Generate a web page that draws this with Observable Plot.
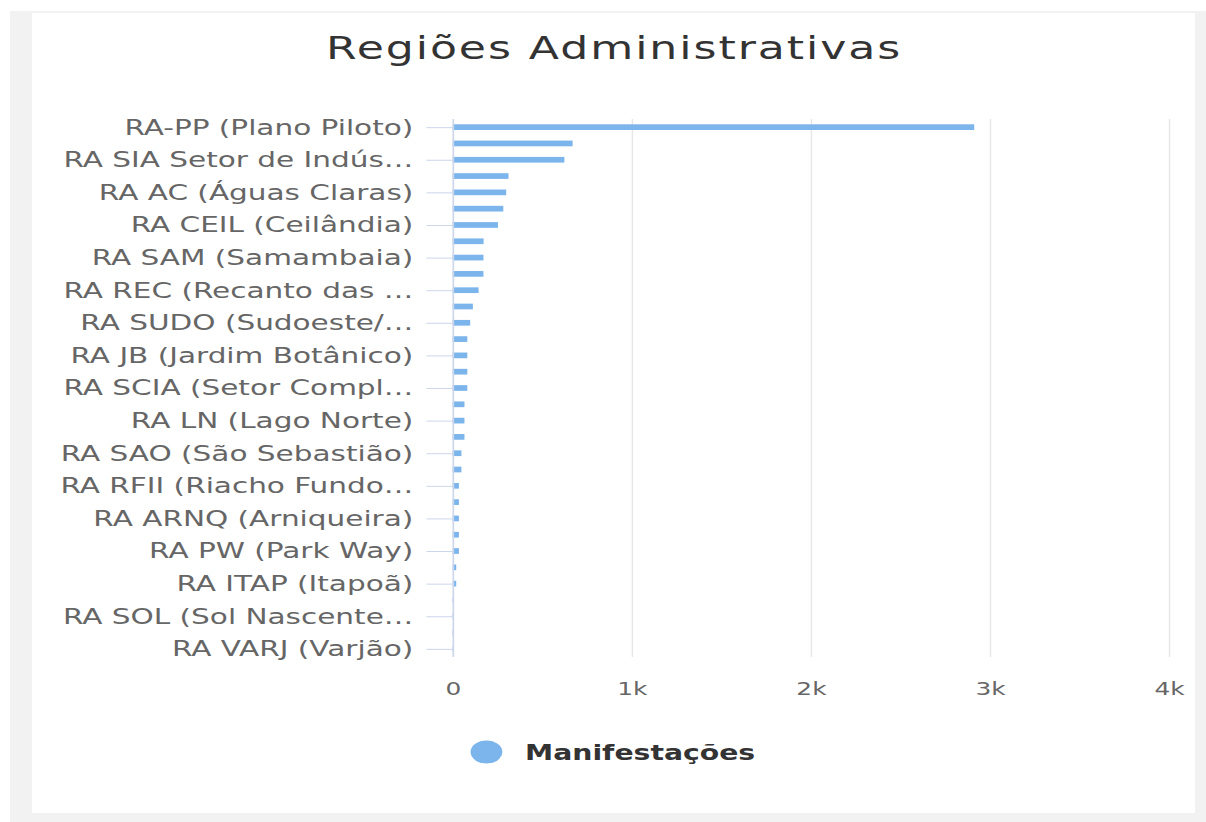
<!DOCTYPE html>
<html><head><meta charset="utf-8">
<script src="https://cdn.jsdelivr.net/npm/d3@7"></script>
<script src="https://cdn.jsdelivr.net/npm/@observablehq/plot@0.6"></script>
<style>
html,body{margin:0;padding:0}
body{background:#fff;width:1206px;height:822px;overflow:hidden;position:relative;font-family:"DejaVu Sans",sans-serif}
#bg{position:absolute;left:10px;top:11px;width:1196px;height:811px;background:#f2f2f2}
#panel{position:absolute;left:32px;top:13px;width:1163px;height:800px;background:#fff}
#wrap{position:absolute;left:0;top:0;width:874px;height:822px;transform:scaleX(1.38);transform-origin:0 0}
#title{position:absolute;left:0;width:890px;top:32px;text-align:center;font-size:32px;line-height:32px;color:#333;letter-spacing:1.4px;white-space:nowrap}
#chart{position:absolute;left:0;top:90px}
#chart svg{display:block}
#legend{position:absolute;left:0;top:730px}
</style></head>
<body>
<div id="bg"></div><div id="panel"></div>
<div id="wrap">
<div id="title">Regiões Administrativas</div>
<div id="chart"></div>
<svg id="legend" width="874" height="50"></svg>
</div>
<script>
const categories = [
  "RA-PP (Plano Piloto)", "RA TAG (Taguatinga)", "RA SIA Setor de Indústria e Abastecimento", "RA GUA (Guará)",
  "RA AC (Águas Claras)", "RA LS (Lago Sul)", "RA CEIL (Ceilândia)", "RA VP (Vicente Pires)",
  "RA SAM (Samambaia)", "RA GAM (Gama)", "RA REC (Recanto das Emas)", "RA SOB (Sobradinho)",
  "RA SUDO (Sudoeste/Octogonal)", "RA PLAN (Planaltina)", "RA JB (Jardim Botânico)", "RA SM (Santa Maria)",
  "RA SCIA (Setor Complementar de Indústria e Abastecimento)", "RA CRUZ (Cruzeiro)", "RA LN (Lago Norte)", "RA NB (Núcleo Bandeirante)",
  "RA SAO (São Sebastião)", "RA RF (Riacho Fundo)", "RA RFII (Riacho Fundo II)", "RA SOBII (Sobradinho II)",
  "RA ARNQ (Arniqueira)", "RA PAR (Paranoá)", "RA PW (Park Way)", "RA BRAZ (Brazlândia)",
  "RA ITAP (Itapoã)", "RA CAND (Candangolândia)", "RA SOL (Sol Nascente/Pôr do Sol)", "RA FERC (Fercal)",
  "RA VARJ (Varjão)"
];
const manifestacoes = [
  2913, 670, 624, 312,
  299, 283, 253, 173,
  172, 172, 145, 113,
  98, 82, 82, 82,
  82, 66, 66, 66,
  49, 49, 35, 35,
  35, 35, 35, 20,
  20, 5, 4, 3,
  2
];
const tickLabels = [
  "RA-PP (Plano Piloto)", "RA SIA Setor de Indús…", "RA AC (Águas Claras)", "RA CEIL (Ceilândia)",
  "RA SAM (Samambaia)", "RA REC (Recanto das …", "RA SUDO (Sudoeste/…", "RA JB (Jardim Botânico)",
  "RA SCIA (Setor Compl…", "RA LN (Lago Norte)", "RA SAO (São Sebastião)", "RA RFII (Riacho Fundo…",
  "RA ARNQ (Arniqueira)", "RA PW (Park Way)", "RA ITAP (Itapoã)", "RA SOL (Sol Nascente…",
  "RA VARJ (Varjão)"
];
const xTicks = [0, 1000, 2000, 3000, 4000];
const xTickLabels = ["0", "1k", "2k", "3k", "4k"];
const seriesName = "Manifestações";
const barColor = "#7cb5ec";

const data = categories.map((c, i) => ({name: c, value: manifestacoes[i]}));
const shown = categories.filter((d, i) => i % 2 === 0);

const chart = Plot.plot({
  width: 874,
  height: 627,
  marginTop: 29,
  marginBottom: 60,
  marginLeft: 328,
  marginRight: 27,
  style: {fontFamily: "DejaVu Sans", background: "transparent", overflow: "visible"},
  x: {domain: [0, 4000]},
  y: {domain: categories, paddingInner: 0.65, paddingOuter: 0.325, round: false},
  marks: [
    Plot.gridX(xTicks.slice(1), {stroke: "#e6e6e6", strokeOpacity: 1, strokeWidth: 1}),
    Plot.barX(data, {x: "value", y: "name", fill: barColor}),
    Plot.ruleX([0], {stroke: "#ccd6eb", strokeWidth: 1.2}),
    Plot.axisY({ticks: shown, tickSize: 19, tickPadding: 10, stroke: "#ccd6eb", strokeOpacity: 1, fill: "#666", fontSize: 21.4, label: null,
      tickFormat: d => tickLabels[shown.indexOf(d)]}),
    Plot.axisX({ticks: xTicks, tickSize: 0, tickPadding: 25, fill: "#666", fontSize: 18, label: null,
      tickFormat: d => xTickLabels[xTicks.indexOf(d)]})
  ]
});
document.getElementById("chart").appendChild(chart);

const lg = d3.select("#legend");
lg.append("circle").attr("cx", 352.5).attr("cy", 22).attr("r", 11.5).attr("fill", barColor);
lg.append("text").attr("x", 380.5).attr("y", 30).attr("font-family", "DejaVu Sans").attr("font-weight", "bold")
  .attr("font-size", 20.5).attr("fill", "#333").text(seriesName);
</script>
</body></html>
